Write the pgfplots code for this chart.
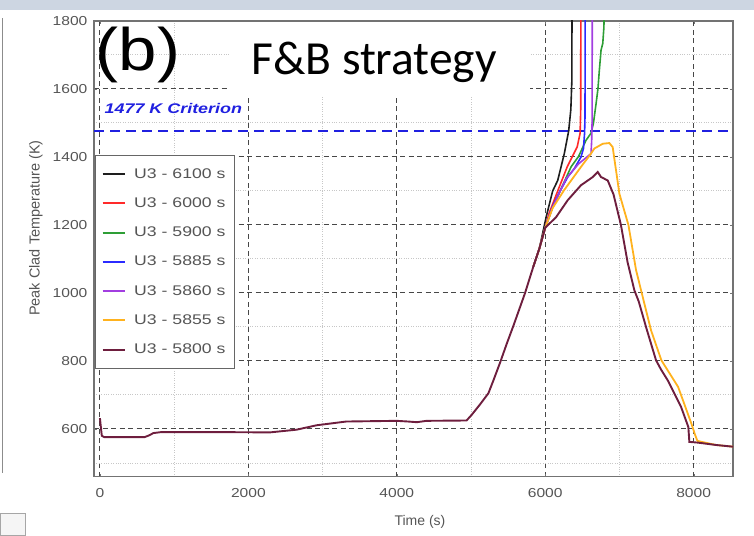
\documentclass[border=0pt]{standalone}
\usepackage{fontspec}
\setmainfont{Liberation Sans}
\newfontfamily\carlito{Carlito}
\usepackage{pgfplots}
\pgfplotsset{compat=1.18}
\definecolor{cBlack}{HTML}{1E1E1E}
\definecolor{cRed}{HTML}{FF2A2A}
\definecolor{cGreen}{HTML}{2E9E36}
\definecolor{cBlue}{HTML}{2B2BFF}
\definecolor{cPurple}{HTML}{A23EE0}
\definecolor{cYellow}{HTML}{FFB21E}
\definecolor{cMaroon}{HTML}{6E1E3E}
\definecolor{cCrit}{HTML}{2020E0}
\definecolor{cBand}{HTML}{CDD6E2}
\definecolor{cText}{HTML}{555555}
\begin{document}
\begin{tikzpicture}
\useasboundingbox (0pt,0pt) rectangle (754pt,535pt);
\fill[cBand] (0pt,525pt) rectangle (754pt,535pt);
\draw[black!45, line width=0.8pt] (2.5pt,62pt) -- (2.5pt,517pt);
\draw[black!35, line width=0.8pt, fill=black!4] (0pt,0pt) rectangle (25pt,22pt);
\begin{axis}[
  at={(94pt,58.4pt)}, anchor=south west,
  width=639pt, height=455.6pt, scale only axis,
  xmin=-80, xmax=8530, ymin=460, ymax=1800,
  xtick={0,2000,4000,6000,8000},
  ytick={600,800,1000,1200,1400,1600,1800},
  minor xtick={1000,3000,5000,7000},
  minor ytick={500,700,900,1100,1300,1500,1700},
  grid=both,
  major grid style={dash pattern=on 5pt off 3.5pt, draw=black!72, line width=1pt},
  minor grid style={dotted, draw=black!22, line width=1pt},
  axis line style={draw=black!55, line width=1.1pt},
  tick style={draw=black!55},
  major tick length=3pt, minor tick length=0pt,
  tick label style={font=\fontsize{13}{15}\selectfont, text=cText, xscale=1.2},
  x tick label style={yshift=-8pt},
  y tick label style={xshift=-2pt},
  /pgf/number format/assume math mode=true,
  /pgf/number format/1000 sep={},
  legend style={at={(0.002,0.706)}, anchor=north west, draw=black!60, line width=0.9pt,
    fill=white, font=\fontsize{14}{16}\selectfont, text=cText,
    row sep=14pt, column sep=6pt, inner xsep=6pt, inner ysep=11pt,
    nodes={inner sep=2pt, xscale=1.26}},
  legend cell align=left,
  legend image code/.code={\draw[#1, line width=2pt] (0pt,0pt) -- (22pt,0pt);},
]
\addplot[cCrit, line width=2.4pt, dash pattern=on 10pt off 6pt, forget plot] coordinates {(-80,1477) (8530,1477)};
\addplot[cBlack, line width=1.6pt] coordinates {
(5840,1078) (5920,1130) (6011,1222) (6100,1300) (6168,1331) (6257,1410) (6316,1477) (6345,1540) (6358,1620) (6361,1850)};
\addlegendentry{U3 - 6100 s}
\addplot[cRed, line width=1.6pt] coordinates {
(5840,1078) (5920,1130) (6000,1192) (6048,1232) (6150,1290) (6296,1371) (6431,1430) (6470,1470) (6478,1540) (6480,1850)};
\addlegendentry{U3 - 6000 s}
\addplot[cGreen, line width=1.6pt] coordinates {
(5840,1078) (5920,1130) (6000,1192) (6100,1252) (6200,1300) (6348,1371) (6450,1402) (6549,1449) (6617,1470) (6650,1500) (6685,1557) (6710,1600) (6729,1655) (6752,1714) (6775,1734) (6790,1780) (6798,1850)};
\addlegendentry{U3 - 5900 s}
\addplot[cBlue, line width=1.6pt] coordinates {
(5840,1078) (5920,1130) (6000,1192) (6100,1255) (6200,1300) (6303,1341) (6392,1366) (6482,1400) (6515,1425) (6530,1470) (6536,1520) (6538,1850)};
\addlegendentry{U3 - 5885 s}
\addplot[cPurple, line width=1.6pt] coordinates {
(5840,1078) (5920,1130) (6000,1192) (6100,1252) (6280,1336) (6450,1380) (6617,1410) (6626,1450) (6631,1500) (6634,1850)};
\addlegendentry{U3 - 5860 s}
\addplot[cYellow, line width=1.8pt] coordinates {
(5840,1078) (5920,1130) (6000,1192) (6100,1250) (6253,1302) (6482,1371) (6617,1410) (6662,1425) (6775,1439) (6864,1441) (6909,1429) (6999,1292) (7121,1200) (7224,1067) (7314,988) (7426,890) (7565,802) (7790,724) (7969,616) (8014,586) (8050,565) (8300,553) (8530,548)};
\addlegendentry{U3 - 5855 s}
\addplot[cMaroon, line width=1.9pt] coordinates {
(0,632) (8,615) (25,580) (60,576) (600,576) (660,581) (720,588) (830,591) (1500,591) (2290,590) (2650,598) (2920,611) (3320,622) (4000,624) (4150,622) (4270,620) (4400,624) (4940,625) (5010,642) (5120,672) (5234,705) (5300,742) (5391,795) (5480,850) (5570,903) (5650,952) (5728,1000) (5840,1078) (5920,1130) (6000,1192) (6146,1223) (6303,1273) (6482,1317) (6640,1341) (6707,1356) (6752,1341) (6842,1331) (6920,1290) (7020,1200) (7110,1090) (7201,1008) (7260,975) (7358,900) (7493,802) (7560,775) (7651,743) (7830,665) (7928,606) (7942,562) (8055,560) (8300,553) (8530,548)};
\addlegendentry{U3 - 5800 s}
\node[anchor=west, inner sep=0pt, xscale=1.28, font=\bfseries\itshape\fontsize{14}{16}\selectfont, text=cCrit] at (axis cs:60,1543) {1477 K Criterion};
\end{axis}
\fill[white] (230pt,438pt) rectangle (530pt,513pt);
\node[font=\carlito\fontsize{47.5}{50}\selectfont, inner sep=0pt] at (374pt,473pt) {F\&B strategy};
\node[font=\fontsize{60}{60}\selectfont, inner sep=0pt, xscale=1.15] at (138pt,480pt) {(b)};
\node[rotate=90, font=\fontsize{14.5}{16}\selectfont, text=cText] at (36pt,307pt) {Peak Clad Temperature (K)};
\node[font=\fontsize{14}{16}\selectfont, text=cText] at (420pt,13pt) {Time (s)};
\end{tikzpicture}
\end{document}
